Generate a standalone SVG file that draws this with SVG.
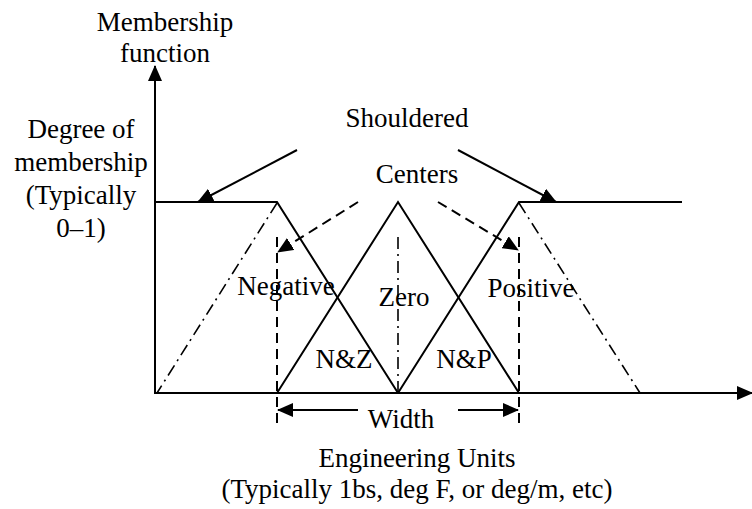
<svg xmlns="http://www.w3.org/2000/svg" width="752" height="509" viewBox="0 0 752 509">
<defs>
<marker id="ah" markerUnits="userSpaceOnUse" markerWidth="16" markerHeight="14" refX="15" refY="7" orient="auto">
<path d="M0,0 L16,7 L0,14 z" fill="#000"/>
</marker>
</defs>
<style>
.t{font-family:"Liberation Serif","Times New Roman",serif;font-size:27px;fill:#000;text-anchor:middle}
.s{stroke:#000;stroke-width:2;fill:none}
.d{stroke:#000;stroke-width:2;fill:none;stroke-dasharray:10 6}
.dd{stroke:#000;stroke-width:1.6;fill:none;stroke-dasharray:12 5 2 5}
</style>
<rect width="752" height="509" fill="#fff"/>
<g id="axes">
<line class="s" x1="155" y1="393" x2="155" y2="66" marker-end="url(#ah)"/>
<line class="s" x1="154" y1="393" x2="752" y2="393" marker-end="url(#ah)"/>
</g>
<g id="negative">
<polyline class="s" points="156,202 277,202 398,393"/>
<line class="dd" x1="277" y1="203" x2="157" y2="393"/>
<text class="t" x="286" y="295">Negative</text>
</g>
<g id="zero">
<polyline class="s" points="277,393 398,202 519,393"/>
<line class="dd" x1="398" y1="237" x2="398" y2="393"/>
<text class="t" x="404" y="306">Zero</text>
</g>
<g id="positive">
<polyline class="s" points="398,393 519,202 682,202"/>
<line class="dd" x1="519" y1="203" x2="640" y2="393"/>
<text class="t" x="531" y="297">Positive</text>
</g>
<g id="overlaps">
<text class="t" x="344" y="368">N&amp;Z</text>
<text class="t" x="464" y="368">N&amp;P</text>
</g>
<g id="connectors">
<line class="d" x1="277" y1="237" x2="277" y2="428"/>
<line class="d" x1="519" y1="237" x2="519" y2="428"/>
<line class="s" x1="297" y1="150" x2="198" y2="202" marker-end="url(#ah)"/>
<line class="s" x1="458" y1="150" x2="556" y2="202" marker-end="url(#ah)"/>
<line class="d" x1="358" y1="202" x2="278" y2="252" marker-end="url(#ah)"/>
<line class="d" x1="438" y1="202" x2="518" y2="250" marker-end="url(#ah)"/>
<line class="s" x1="358" y1="410" x2="278" y2="410" marker-end="url(#ah)"/>
<line class="s" x1="458" y1="410" x2="518" y2="410" marker-end="url(#ah)"/>
</g>
<g id="labels">
<text class="t" x="165" y="31">Membership</text>
<text class="t" x="165" y="62">function</text>
<text class="t" x="81" y="138">Degree of</text>
<text class="t" x="81" y="171">membership</text>
<text class="t" x="81" y="204">(Typically</text>
<text class="t" x="81" y="237">0–1)</text>
<text class="t" x="407" y="127">Shouldered</text>
<text class="t" x="417" y="183">Centers</text>
<text class="t" x="401" y="428">Width</text>
<text class="t" x="417" y="467">Engineering Units</text>
<text class="t" x="417" y="498">(Typically 1bs, deg F, or deg/m, etc)</text>
</g>
</svg>
